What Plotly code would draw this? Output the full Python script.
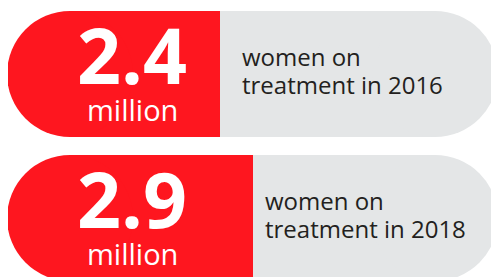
import plotly.graph_objects as go

# Data
values = ["2.4", "2.9"]
unit_label = "million"
desc_line1 = ["women on", "women on"]
desc_line2 = ["treatment in 2016", "treatment in 2018"]

# Layout of pills (axis units == pixels of the figure)
pill_centers = [66, 210]
pill_start = [-1, -1]
split = [212, 245]
pill_end = [490, 490]
text_x = [232, 255]
pill_thickness = 126
radius = pill_thickness / 2

RED = "#FE161F"
GRAY = "#E4E6E7"
TEXT = "#231F20"

W, H = 491, 269

left_c = [s + radius for s in pill_start]
right_c = [e - radius for e in pill_end]

fig = go.Figure()
fig.add_trace(go.Bar(
    orientation="h", y=pill_centers, base=split,
    x=[l - s for l, s in zip(left_c, split)],
    width=pill_thickness, marker=dict(color=RED, line=dict(width=0)),
    hoverinfo="skip",
))
fig.add_trace(go.Bar(
    orientation="h", y=pill_centers, base=split,
    x=[r - s for r, s in zip(right_c, split)],
    width=pill_thickness, marker=dict(color=GRAY, line=dict(width=0)),
    hoverinfo="skip",
))
fig.add_trace(go.Scatter(
    x=left_c, y=pill_centers, mode="markers",
    marker=dict(size=pill_thickness, color=RED, line=dict(width=0)),
    hoverinfo="skip",
))
fig.add_trace(go.Scatter(
    x=right_c, y=pill_centers, mode="markers",
    marker=dict(size=pill_thickness, color=GRAY, line=dict(width=0)),
    hoverinfo="skip",
))

num_x = 123.5
for i, c in enumerate(pill_centers):
    fig.add_annotation(x=num_x, y=c - 20, xref="x", yref="y", text=values[i],
                       showarrow=False, xanchor="center", yanchor="middle",
                       font=dict(family="Open Sans", size=77, color="white", weight=700))
    fig.add_annotation(x=num_x + 0.5, y=c + 35, xref="x", yref="y", text=unit_label,
                       showarrow=False, xanchor="center", yanchor="middle",
                       font=dict(family="Open Sans", size=29, color="white"))
    fig.add_annotation(x=text_x[i], y=c - 18, xref="x", yref="y", text=desc_line1[i],
                       showarrow=False, xanchor="left", yanchor="middle", align="left",
                       font=dict(family="Open Sans", size=24, color=TEXT))
    fig.add_annotation(x=text_x[i], y=c + 10, xref="x", yref="y", text=desc_line2[i],
                       showarrow=False, xanchor="left", yanchor="middle", align="left",
                       font=dict(family="Open Sans", size=24, color=TEXT))

fig.update_layout(
    width=W, height=H,
    margin=dict(l=0, r=0, t=0, b=0, pad=0),
    paper_bgcolor="white", plot_bgcolor="white",
    barmode="overlay",
    showlegend=False,
    xaxis=dict(range=[0, W], visible=False, fixedrange=True),
    yaxis=dict(range=[H, 0], visible=False, fixedrange=True),
)

fig.write_html("out.html", config={"displayModeBar": False})
